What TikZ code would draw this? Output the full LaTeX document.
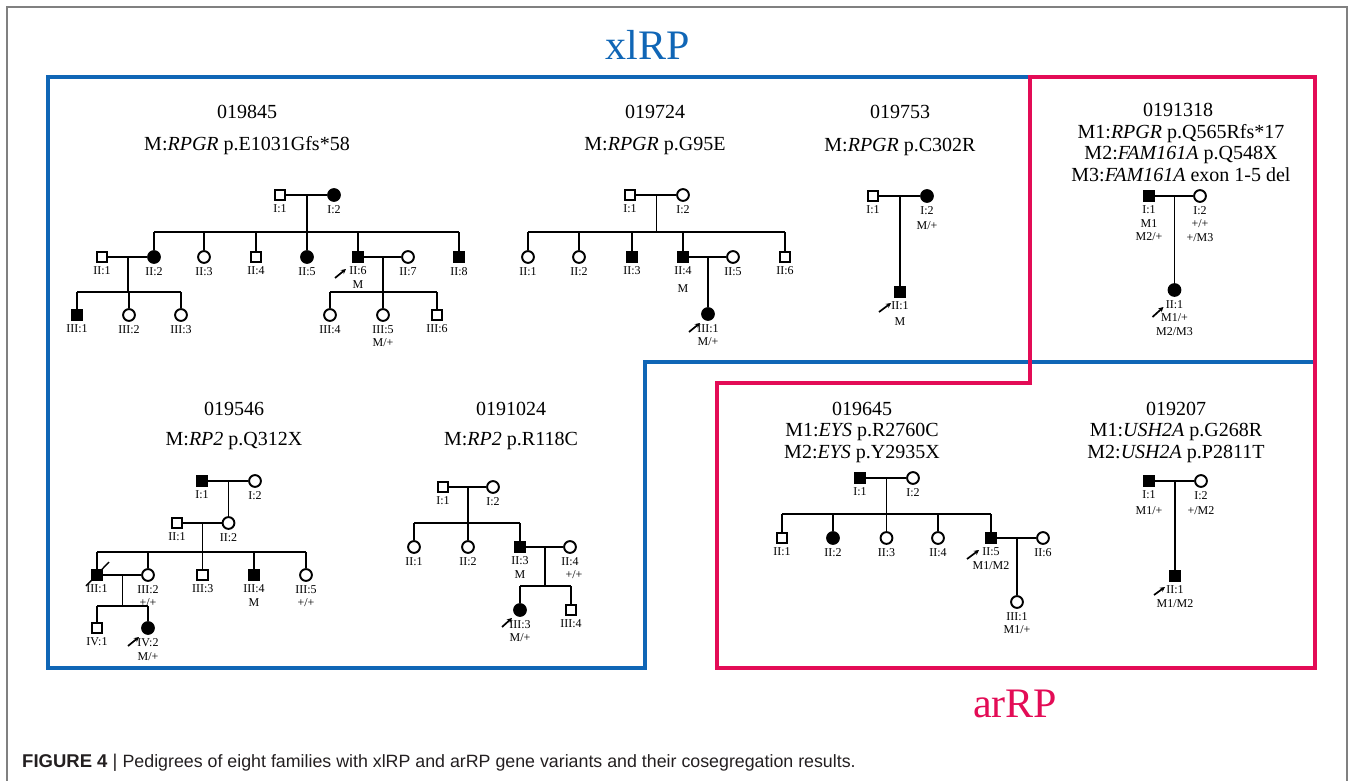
\documentclass[tikz,border=0pt]{standalone}
\usepackage{fontspec}
\setmainfont{Liberation Serif}
\newfontfamily\capfont{Liberation Sans}
\usetikzlibrary{positioning,calc,arrows.meta}
\definecolor{xlblue}{RGB}{16,102,182}
\definecolor{arred}{RGB}{227,12,86}
\definecolor{framegray}{RGB}{128,128,128}
\definecolor{captext}{RGB}{35,31,32}
\begin{document}
\begin{tikzpicture}[x=1pt,y=-1pt,
  male/.style={rectangle,draw,line width=1.9pt,minimum size=10.8pt,inner sep=0pt,fill=white},
  affmale/.style={male,fill=black},
  female/.style={circle,draw,line width=1.9pt,minimum size=11.8pt,inner sep=0pt,fill=white},
  afffemale/.style={female,fill=black},
  idl/.style={font=\fontsize{12}{13.5}\selectfont,inner sep=0pt,align=center},
  ttl/.style={font=\fontsize{20}{21.5}\selectfont,inner sep=0pt,anchor=base},
  tie/.style={line width=1.3pt},
  proband/.style={line width=1.7pt,-{Stealth[length=5pt,width=5pt]}},
  group/.style={line width=4pt,line join=miter},
  grouptitle/.style={font=\fontsize{42}{44}\selectfont,inner sep=0pt,anchor=base}
]
\useasboundingbox (0,0) rectangle (1358,781);

% outer figure frame
\draw[framegray,line width=1.2pt] (7,781) -- (7,7) -- (1347,7) -- (1347,781);

% group outlines
\draw[group,xlblue] (48,77) -- (1315,77) -- (1315,362) -- (645,362) -- (645,668) -- (48,668) -- cycle;
\draw[group,arred] (1030,77) -- (1315,77) -- (1315,668) -- (717,668) -- (717,383) -- (1030,383) -- cycle;
\node[grouptitle,xlblue] (xlrp) at (648,60) {xlRP};
\node[grouptitle,arred] (arrp) at (1015,717) {arRP};

% ---------------- family 019845 ----------------
\node[ttl] (Atitle) at (247,119) {019845};
\node[ttl] (Amut) at (247,150) {M:\textit{RPGR} p.E1031Gfs*58};
\node[male] (A11) at (280,195) {};
\node[afffemale] (A12) at (334,195) {};
\foreach \n/\x/\s in {A21/102/male,A22/154/afffemale,A23/204/female,A24/256/male,A25/307/afffemale,A26/358/affmale,A27/408/female,A28/459/affmale}
  \node[\s] (\n) at (\x,257) {};
\foreach \n/\x/\s in {A31/77/affmale,A32/129/female,A33/181/female,A34/330/female,A35/383/female,A36/437/male}
  \node[\s] (\n) at (\x,315) {};
\coordinate (A1m) at ($(A11)!0.5!(A12)$);
\coordinate (A1s) at ($(A1m)+(0,37)$);
\draw[tie] (A11) -- (A12);
\draw[tie] (A1m) -- (A1s);
\draw[tie] (A22 |- A1s) -- (A28 |- A1s);
\foreach \c in {A22,A23,A24,A25,A26,A28} \draw[tie] (\c |- A1s) -- (\c);
\coordinate (A2m) at ($(A21)!0.5!(A22)$);
\coordinate (A2s) at ($(A2m)+(0,35)$);
\draw[tie] (A21) -- (A22);
\draw[tie] (A2m) -- (A2s);
\draw[tie] (A31 |- A2s) -- (A33 |- A2s);
\foreach \c in {A31,A32,A33} \draw[tie] (\c |- A2s) -- (\c);
\coordinate (A3m) at ($(A26)!0.5!(A27)$);
\coordinate (A3s) at ($(A3m)+(0,35)$);
\draw[tie] (A26) -- (A27);
\draw[tie] (A3m) -- (A3s);
\draw[tie] (A34 |- A3s) -- (A36 |- A3s);
\foreach \c in {A34,A35,A36} \draw[tie] (\c |- A3s) -- (\c);
\foreach \c/\t in {A11/{I:1},A12/{I:2},A21/{II:1},A22/{II:2},A23/{II:3},A24/{II:4},A25/{II:5},A26/{II:6\\M},A27/{II:7},A28/{II:8},A31/{III:1},A32/{III:2},A33/{III:3},A34/{III:4},A35/{III:5\\M/+},A36/{III:6}}
  \node[idl,below=3.5pt of \c] (\c l) {\t};
\draw[proband] ($(A26)+(-23,21)$) -- ($(A26)+(-12,12)$);

% ---------------- family 019724 ----------------
\node[ttl] (Btitle) at (655,119) {019724};
\node[ttl] (Bmut) at (655,150) {M:\textit{RPGR} p.G95E};
\node[male] (B11) at (630,195) {};
\node[female] (B12) at (683,195) {};
\foreach \n/\x/\s in {B21/528/female,B22/579/female,B23/632/affmale,B24/683/affmale,B25/733/female,B26/785/male}
  \node[\s] (\n) at (\x,257) {};
\node[afffemale] (B31) at (708,314) {};
\coordinate (B1m) at ($(B11)!0.5!(B12)$);
\coordinate (B1s) at ($(B1m)+(0,37)$);
\draw[tie] (B11) -- (B12);
\draw[tie] (B1m) -- (B1s);
\draw[tie] (B21 |- B1s) -- (B26 |- B1s);
\foreach \c in {B21,B22,B23,B24,B26} \draw[tie] (\c |- B1s) -- (\c);
\coordinate (B2m) at ($(B24)!0.5!(B25)$);
\draw[tie] (B24) -- (B25);
\draw[tie] (B2m) -- (B31);
\foreach \c/\t in {B11/{I:1},B12/{I:2},B21/{II:1},B22/{II:2},B23/{II:3},B24/{II:4\\[4pt]M},B25/{II:5},B26/{II:6},B31/{III:1\\M/+}}
  \node[idl,below=3.5pt of \c] (\c l) {\t};
\draw[proband] ($(B31)+(-19,18)$) -- ($(B31)+(-8,9)$);

% ---------------- family 019753 ----------------
\node[ttl] (Ctitle) at (900,119) {019753};
\node[ttl] (Cmut) at (900,152) {M:\textit{RPGR} p.C302R};
\node[male] (C11) at (873,196) {};
\node[afffemale] (C12) at (927,196) {};
\node[affmale] (C21) at (900,292) {};
\coordinate (C1m) at ($(C11)!0.5!(C12)$);
\draw[tie] (C11) -- (C12);
\draw[tie] (C1m) -- (C21);
\foreach \c/\t in {C11/{I:1},C12/{I:2\\[2pt]M/+},C21/{II:1\\[2pt]M}}
  \node[idl,below=3.5pt of \c] (\c l) {\t};
\draw[proband] ($(C21)+(-21,20)$) -- ($(C21)+(-9,11)$);

% ---------------- family 0191318 ----------------
\node[ttl] (Dtitle) at (1178,117) {0191318};
\node[ttl] (Dmut1) at (1181,138.5) {M1:\textit{RPGR} p.Q565Rfs*17};
\node[ttl] (Dmut2) at (1181,160) {M2:\textit{FAM161A} p.Q548X};
\node[ttl] (Dmut3) at (1181,181.5) {M3:\textit{FAM161A} exon 1-5 del};
\node[affmale] (D11) at (1149,196) {};
\node[female] (D12) at (1200,196) {};
\node[afffemale] (D21) at (1174.5,290) {};
\coordinate (D1m) at ($(D11)!0.5!(D12)$);
\draw[tie] (D11) -- (D12);
\draw[tie] (D1m) -- (D21);
\foreach \c/\t in {D11/{I:1\\M1\\M2/+},D12/{I:2\\+/+\\+/M3},D21/{II:1\\M1/+\\M2/M3}}
  \node[idl,below=3.5pt of \c] (\c l) {\t};
\draw[proband] ($(D21)+(-22,27)$) -- ($(D21)+(-11,17)$);

% ---------------- family 019546 ----------------
\node[ttl] (Etitle) at (234,415) {019546};
\node[ttl] (Emut) at (234,445) {M:\textit{RP2} p.Q312X};
\node[affmale] (E11) at (202,481) {};
\node[female] (E12) at (255,481) {};
\node[male] (E21) at (177,523) {};
\node[female] (E22) at (228.5,523) {};
\foreach \n/\x/\s in {E31/97/affmale,E32/148/female,E33/202.75/male,E34/254/affmale,E35/306/female}
  \node[\s] (\n) at (\x,575) {};
\node[male] (E41) at (97,628) {};
\node[afffemale] (E42) at (148,628) {};
\coordinate (E1m) at ($(E11)!0.5!(E12)$);
\draw[tie] (E11) -- (E12);
\draw[tie] (E1m) -- (E22);
\coordinate (E2m) at ($(E21)!0.5!(E22)$);
\coordinate (E2s) at ($(E2m)+(0,29)$);
\draw[tie] (E21) -- (E22);
\draw[tie] (E2m) -- (E2s);
\draw[tie] (E31 |- E2s) -- (E35 |- E2s);
\foreach \c in {E31,E32,E33,E34,E35} \draw[tie] (\c |- E2s) -- (\c);
\coordinate (E3m) at ($(E31)!0.5!(E32)$);
\coordinate (E3s) at ($(E3m)+(0,31)$);
\draw[tie] (E31) -- (E32);
\draw[tie] (E3m) -- (E3s);
\draw[tie] (E41 |- E3s) -- (E42 |- E3s);
\foreach \c in {E41,E42} \draw[tie] (\c |- E3s) -- (\c);
% deceased mark
\draw[line width=1.4pt] ($(E31)+(-11,11)$) -- ($(E31)+(12,-13)$);
\foreach \c/\t in {E11/{I:1},E12/{I:2},E21/{II:1},E22/{II:2},E31/{III:1},E32/{III:2\\+/+},E33/{III:3},E34/{III:4\\M},E35/{III:5\\+/+},E41/{IV:1},E42/{IV:2\\M/+}}
  \node[idl,below=3.5pt of \c] (\c l) {\t};
\draw[proband] ($(E42)+(-20,18)$) -- ($(E42)+(-9,9)$);

% ---------------- family 0191024 ----------------
\node[ttl] (Ftitle) at (511,415) {0191024};
\node[ttl] (Fmut) at (511,445) {M:\textit{RP2} p.R118C};
\node[male] (F11) at (443,487) {};
\node[female] (F12) at (493,487) {};
\foreach \n/\x/\s in {F21/414/female,F22/468/female,F23/520/affmale,F24/570/female}
  \node[\s] (\n) at (\x,547) {};
\node[afffemale] (F31) at (520,610) {};
\node[male] (F32) at (571,610) {};
\coordinate (F1m) at ($(F11)!0.5!(F12)$);
\coordinate (F1s) at ($(F1m)+(0,36)$);
\draw[tie] (F11) -- (F12);
\draw[tie] (F1m) -- (F1s);
\draw[tie] (F21 |- F1s) -- (F23 |- F1s);
\foreach \c in {F21,F22,F23} \draw[tie] (\c |- F1s) -- (\c);
\coordinate (F2m) at ($(F23)!0.5!(F24)$);
\coordinate (F2s) at ($(F2m)+(0,39)$);
\draw[tie] (F23) -- (F24);
\draw[tie] (F2m) -- (F2s);
\draw[tie] (F31 |- F2s) -- (F32 |- F2s);
\foreach \c in {F31,F32} \draw[tie] (\c |- F2s) -- (\c);
\foreach \c/\t in {F11/{I:1},F12/{I:2},F21/{II:1},F22/{II:2},F23/{II:3\\M},F24/{II:4\\\hspace*{8pt}+/+},F31/{III:3\\M/+},F32/{III:4}}
  \node[idl,below=3.5pt of \c] (\c l) {\t};
\draw[proband] ($(F31)+(-18,17)$) -- ($(F31)+(-8,8)$);

% ---------------- family 019645 ----------------
\node[ttl] (Gtitle) at (862,415) {019645};
\node[ttl] (Gmut1) at (862,436.5) {M1:\textit{EYS} p.R2760C};
\node[ttl] (Gmut2) at (862,458) {M2:\textit{EYS} p.Y2935X};
\node[affmale] (G11) at (860,478) {};
\node[female] (G12) at (913,478) {};
\foreach \n/\x/\s in {G21/782/male,G22/833/afffemale,G23/886.5/female,G24/938/female,G25/991/affmale,G26/1043/female}
  \node[\s] (\n) at (\x,538) {};
\node[female] (G31) at (1017,602) {};
\coordinate (G1m) at ($(G11)!0.5!(G12)$);
\coordinate (G1s) at ($(G1m)+(0,36)$);
\draw[tie] (G11) -- (G12);
\draw[tie] (G1m) -- (G1s);
\draw[tie] (G21 |- G1s) -- (G25 |- G1s);
\foreach \c in {G21,G22,G23,G24,G25} \draw[tie] (\c |- G1s) -- (\c);
\coordinate (G2m) at ($(G25)!0.5!(G26)$);
\draw[tie] (G25) -- (G26);
\draw[tie] (G2m) -- (G31);
\foreach \c/\t in {G11/{I:1},G12/{I:2},G21/{II:1},G22/{II:2},G23/{II:3},G24/{II:4},G25/{II:5\\M1/M2},G26/{II:6},G31/{III:1\\M1/+}}
  \node[idl,below=3.5pt of \c] (\c l) {\t};
\draw[proband] ($(G25)+(-24,21)$) -- ($(G25)+(-12,12)$);

% ---------------- family 019207 ----------------
\node[ttl] (Htitle) at (1176,415) {019207};
\node[ttl] (Hmut1) at (1176,436.5) {M1:\textit{USH2A} p.G268R};
\node[ttl] (Hmut2) at (1176,458) {M2:\textit{USH2A} p.P2811T};
\node[affmale] (H11) at (1149,481) {};
\node[female] (H12) at (1201,481) {};
\node[affmale] (H21) at (1175,576) {};
\coordinate (H1m) at ($(H11)!0.5!(H12)$);
\draw[tie] (H11) -- (H12);
\draw[tie] (H1m) -- (H21);
\foreach \c/\t in {H11/{I:1\\[2pt]M1/+},H12/{I:2\\[2pt]+/M2},H21/{II:1\\M1/M2}}
  \node[idl,below=3.5pt of \c] (\c l) {\t};
\draw[proband] ($(H21)+(-21,19)$) -- ($(H21)+(-10,11)$);

% caption
\node[anchor=base west,inner sep=0pt,text=captext] (caption) at (22,767)
  {\capfont\fontsize{18.5}{20}\selectfont\textbf{FIGURE 4} | \fontsize{17.8}{20}\selectfont Pedigrees of eight families with xlRP and arRP gene variants and their cosegregation results.};
\end{tikzpicture}
\end{document}
